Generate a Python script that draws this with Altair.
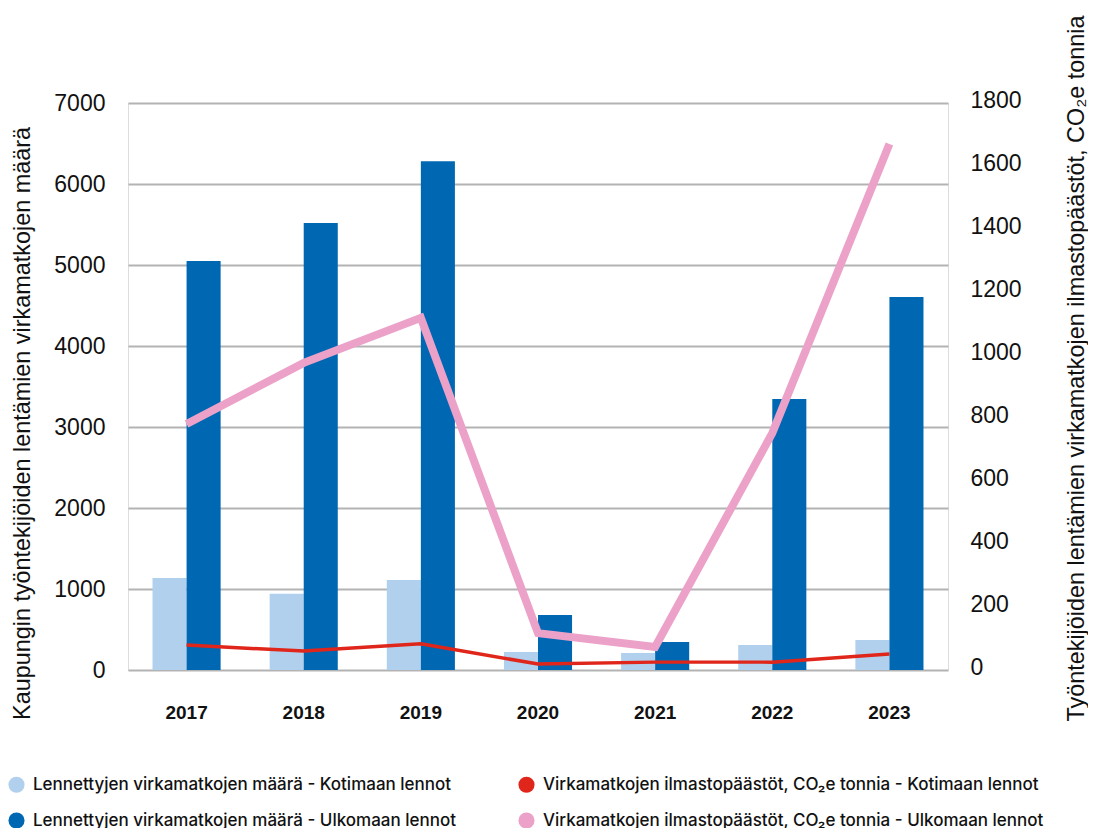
import altair as alt
import pandas as pd

years = ["2017", "2018", "2019", "2020", "2021", "2022", "2023"]
koti_count = [1135, 940, 1110, 222, 210, 310, 370]
ulko_count = [5050, 5520, 6280, 680, 346, 3345, 4605]
koti_co2 = [79, 60, 83, 19, 25, 25, 51]
ulko_co2 = [781, 975, 1118, 117, 73, 752, 1670]

S1 = "Lennettyjen virkamatkojen määrä - Kotimaan lennot"
S2 = "Lennettyjen virkamatkojen määrä - Ulkomaan lennot"
S3 = "Virkamatkojen ilmastopäästöt, CO₂e tonnia - Kotimaan lennot"
S4 = "Virkamatkojen ilmastopäästöt, CO₂e tonnia - Ulkomaan lennot"
legend_order = [S1, S2, S3, S4]
colors = ["#b0d0ee", "#0068b3", "#e0261a", "#eca2c8"]

left_ticks = [0, 1000, 2000, 3000, 4000, 5000, 6000, 7000]
right_ticks = [0, 200, 400, 600, 800, 1000, 1200, 1400, 1600, 1800]

left_title = "Kaupungin työntekijöiden lentämien virkamatkojen määrä"
right_title = "Työntekijöiden lentämien virkamatkojen ilmastopäästöt, CO₂e tonnia"

FONT = "Liberation Sans"

bars_df = pd.DataFrame({
    "year": years * 2,
    "grp": ["Kotimaan"] * 7 + ["Ulkomaan"] * 7,
    "series": [S1] * 7 + [S2] * 7,
    "count": koti_count + ulko_count,
})

red_df = pd.DataFrame({"year": years, "series": [S3] * 7, "co2": koti_co2})
pink_df = pd.DataFrame({"year": years, "series": [S4] * 7, "co2": ulko_co2})

color_scale = alt.Scale(domain=legend_order, range=colors)

x_enc = alt.X(
    "year:N",
    scale=alt.Scale(paddingInner=0, paddingOuter=0),
    axis=alt.Axis(title=None, labelAngle=0, labelFont=FONT, labelFontSize=19,
                  labelFontWeight="bold", labelColor="#111", labelPadding=33,
                  ticks=False, domain=False, grid=False),
)

bars = alt.Chart(bars_df).mark_bar().encode(
    x=x_enc,
    xOffset=alt.XOffset("grp:N", scale=alt.Scale(domain=["Kotimaan", "Ulkomaan"],
                                                 paddingInner=0, paddingOuter=0.72)),
    y=alt.Y("count:Q", scale=alt.Scale(domain=[0, 7000], nice=False),
            axis=alt.Axis(values=left_ticks, format="d", title=left_title, titleAngle=270,
                          titleFont=FONT, titleFontSize=23.4, titleFontWeight="normal",
                          titleColor="#111", titleX=-106, titleY=320,
                          titleAlign="center", titleBaseline="middle",
                          labelFont=FONT, labelFontSize=23, labelColor="#111",
                          labelPadding=23, ticks=False, domain=False,
                          grid=True, gridColor="#b3b3b3", gridWidth=2)),
    color=alt.Color("series:N", scale=color_scale,
                    legend=alt.Legend(title=None, orient="none", legendX=-120, legendY=673,
                                      columns=2, columnPadding=62, rowPadding=18,
                                      symbolType="circle", symbolSize=260,
                                      symbolStrokeWidth=0, labelFont="Inter",
                                      labelFontSize=17, labelFontWeight=500,
                                      labelColor="#111", labelOffset=8,
                                      labelLimit=0, padding=0)),
)

right_axis = alt.Axis(orient="right", values=right_ticks, format="d", title=right_title,
                      titleAngle=270, titleFont=FONT, titleFontSize=23.4,
                      titleFontWeight="normal", titleColor="#111",
                      titleX=128, titleY=265, titleAlign="center",
                      titleBaseline="middle", labelFont=FONT, labelFontSize=23,
                      labelColor="#111", labelPadding=22, labelOffset=-3,
                      ticks=False, domain=False, grid=False)

red = alt.Chart(red_df).mark_line(strokeWidth=3.5).encode(
    x=alt.X("year:N"),
    y=alt.Y("co2:Q", scale=alt.Scale(domain=[0, 1800], nice=False), axis=right_axis),
    color=alt.Color("series:N", scale=color_scale),
)
pink = alt.Chart(pink_df).mark_line(strokeWidth=8).encode(
    x=alt.X("year:N"),
    y=alt.Y("co2:Q", scale=alt.Scale(domain=[0, 1800], nice=False), axis=right_axis),
    color=alt.Color("series:N", scale=color_scale),
)

chart = alt.layer(bars, alt.layer(red, pink)).resolve_scale(y="independent").properties(
    width=820, height=567,
    autosize=alt.AutoSizeParams(type="none"),
    padding={"left": 120, "top": 95, "right": 140, "bottom": 158},
).configure_view(stroke=None).configure(background="white")

chart.save("out.html", embed_options={"renderer": "svg", "actions": False})
